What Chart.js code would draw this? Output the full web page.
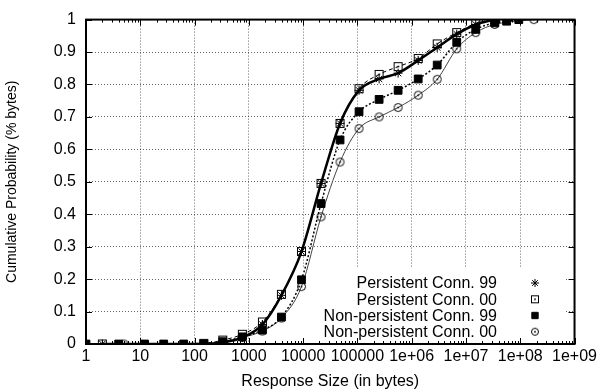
<!DOCTYPE html>
<html>
<head>
<meta charset="utf-8">
<script src="https://cdn.jsdelivr.net/npm/chart.js@4"></script>
<style>
  html, body { margin: 0; padding: 0; background: #fff; }
  canvas { display: block; }
</style>
</head>
<body>
<canvas id="cdfGraph" width="600" height="392"></canvas>
<script>
const seriesNames = ["Persistent Conn. 99", "Persistent Conn. 00",
                     "Non-persistent Conn. 99", "Non-persistent Conn. 00"];

// response size (bytes) / cumulative fraction of bytes
const sizesP99 = [2, 148, 331, 759, 1778, 3981, 9333, 21380, 47860, 107150, 251190,
                  562340, 1318000, 2951000, 6761000, 15140000, 33880000];
const probP99 = [0, 0, 0.005, 0.02, 0.06, 0.15, 0.285, 0.495, 0.68, 0.782, 0.817,
                 0.835, 0.874, 0.914, 0.955, 0.985, 1.0];

const sizesP00 = [2, 148, 331, 759, 1778, 3981, 9333, 21380, 47860, 107150, 251190,
                  562340, 1318000, 2951000, 6761000, 15140000, 33880000];
const probP00 = [0, 0.002, 0.012, 0.03, 0.068, 0.153, 0.285, 0.495, 0.68, 0.787, 0.831,
                 0.855, 0.88, 0.925, 0.96, 0.988, 1.0];

const sizesNP99 = [1, 4, 12, 27, 63, 148, 331, 759, 1778, 3981, 9333, 21380, 47860,
                   107150, 251190, 562340, 1318000, 2951000, 6761000, 15140000,
                   33880000, 56000000, 94000000];
const probNP99 = [0, 0, 0, 0, 0, 0, 0.007, 0.022, 0.043, 0.083, 0.198, 0.433, 0.629,
                  0.716, 0.754, 0.782, 0.817, 0.86, 0.93, 0.97,
                  0.99, 0.995, 1.0];

const sizesNP00 = [5, 331, 759, 1778, 3981, 9333, 21380, 47860, 107150, 251190,
                   562340, 1318000, 2951000, 6761000, 15140000, 33880000, 177800000];
const probNP00 = [0, 0.005, 0.02, 0.04, 0.08, 0.177, 0.392, 0.561, 0.664, 0.70,
                  0.729, 0.767, 0.816, 0.91, 0.96, 0.985, 1.0];

const decades = [1, 10, 100, 1000, 10000, 100000, 1e6, 1e7, 1e8, 1e9];

const FONT = '"Liberation Sans", Arial, Helvetica, sans-serif';
Chart.defaults.font.family = FONT;
Chart.defaults.font.size = 16;
Chart.defaults.color = "#000";

// open marker with a dot in the middle (square or circle)
function dotMarker(kind, size) {
    const c = document.createElement("canvas");
    c.width = c.height = size + 2;
    const g = c.getContext("2d");
    const m = (size + 2) / 2;
    g.strokeStyle = "#000";
    g.lineWidth = 1;
    if (kind === "square") {
        g.strokeRect(1.5, 1.5, size - 1, size - 1);
    } else {
        g.beginPath();
        g.arc(m, m, size / 2 - 0.5, 0, Math.PI * 2);
        g.stroke();
    }
    g.fillStyle = "#000";
    g.fillRect(m - 0.8, m - 0.8, 1.6, 1.6);
    return c;
}

const squareDot = dotMarker("square", 9);
const circleDot = dotMarker("circle", 9);
const squareDotKey = dotMarker("square", 8);
const circleDotKey = dotMarker("circle", 8);

function toPoints(xs, ys) {
    return xs.map((x, i) => ({x: x, y: ys[i]}));
}

function logLabel(v) {
    if (v < 1e6) return String(v);
    const e = Math.round(Math.log10(v));
    return "1e+" + (e < 10 ? "0" + e : e);
}

const keyStyles = [
    {style: "star", radius: 4},
    {style: squareDotKey},
    {style: "rect", radius: 4.5, fill: true},
    {style: circleDotKey}
];

const framePlugin = {
    id: "frame",
    beforeDatasetsDraw(chart) {
        // the key box hides the grid behind it
        const c = chart.ctx;
        c.save();
        c.fillStyle = "#fff";
        c.fillRect(270, 268, 296, 75);
        c.restore();
    },
    afterDatasetsDraw(chart) {
        const c = chart.ctx;
        const a = chart.chartArea;
        const xs = chart.scales.x;
        const ys = chart.scales.y;
        c.save();
        c.strokeStyle = "#000";
        c.lineWidth = 1;
        c.beginPath();
        // x ticks, major and minor, bottom and top
        decades.forEach((d, i) => {
            const px = Math.round(xs.getPixelForValue(d)) + 0.5;
            c.moveTo(px, a.bottom); c.lineTo(px, a.bottom - 6);
            c.moveTo(px, a.top); c.lineTo(px, a.top + 6);
            if (i < decades.length - 1) {
                for (let k = 2; k < 10; k++) {
                    const mx = Math.round(xs.getPixelForValue(d * k)) + 0.5;
                    c.moveTo(mx, a.bottom); c.lineTo(mx, a.bottom - 3);
                    c.moveTo(mx, a.top); c.lineTo(mx, a.top + 3);
                }
            }
        });
        // y ticks, left and right
        for (let k = 0; k <= 10; k++) {
            const py = Math.round(ys.getPixelForValue(k / 10)) + 0.5;
            c.moveTo(a.left, py); c.lineTo(a.left + 6, py);
            c.moveTo(a.right, py); c.lineTo(a.right - 6, py);
        }
        c.stroke();

        c.lineWidth = 2;
        c.strokeRect(a.left, a.top, a.right - a.left, a.bottom - a.top);

        // key
        c.font = "16px " + FONT;
        c.fillStyle = "#000";
        c.textAlign = "right";
        c.textBaseline = "middle";
        const rows = [283, 299.3, 315.5, 331.7];
        seriesNames.forEach((name, i) => {
            c.fillText(name, 497, rows[i] + 1);
            const k = keyStyles[i];
            if (typeof k.style === "string") {
                c.lineWidth = 1;
                c.strokeStyle = "#000";
                c.fillStyle = k.fill ? "#000" : "rgba(0,0,0,0)";
                Chart.helpers.drawPoint(c, {pointStyle: k.style, radius: k.radius, rotation: 0, borderWidth: 1}, 535, rows[i]);
                c.fillStyle = "#000";
            } else {
                c.drawImage(k.style, 535 - k.style.width / 2, rows[i] - k.style.height / 2);
            }
        });
        c.restore();
    }
};

const seriesStyles = [
    {width: 2.5, dash: [], color: "#000", point: "star", radius: 4.5, fill: "rgba(0,0,0,0)"},
    {width: 1, dash: [4, 3], color: "#000", point: squareDot, radius: 4.5, fill: "rgba(0,0,0,0)"},
    {width: 1.5, dash: [2, 2], color: "#000", point: "rect", radius: 5.5, fill: "#000"},
    {width: 1, dash: [], color: "#444", point: circleDot, radius: 4.5, fill: "rgba(0,0,0,0)"}
];

const seriesData = [
    toPoints(sizesP99, probP99),
    toPoints(sizesP00, probP00),
    toPoints(sizesNP99, probNP99),
    toPoints(sizesNP00, probNP00)
];

const ctx = document.getElementById("cdfGraph");

new Chart(ctx, {
    type: "line",
    data: {
        datasets: seriesData.map((pts, i) => ({
            label: seriesNames[i],
            data: pts,
            fill: false,
            cubicInterpolationMode: "monotone",
            borderColor: seriesStyles[i].color,
            borderWidth: seriesStyles[i].width,
            borderDash: seriesStyles[i].dash,
            pointStyle: seriesStyles[i].point,
            pointRadius: seriesStyles[i].radius,
            pointBorderWidth: 1,
            pointBorderColor: "#000",
            pointBackgroundColor: seriesStyles[i].fill
        }))
    },
    options: {
        responsive: false,
        animation: false,
        devicePixelRatio: 1,
        layout: {padding: {top: 17, right: 24, left: 0, bottom: 0}},
        plugins: {
            legend: {display: false},
            tooltip: {enabled: false}
        },
        scales: {
            x: {
                type: "logarithmic",
                min: 1,
                max: 1e9,
                afterBuildTicks(scale) {
                    scale.ticks = decades.map(v => ({value: v}));
                },
                afterFit(scale) { scale.height = 48; },
                ticks: {
                    padding: 3,
                    maxRotation: 0,
                    autoSkip: false,
                    callback: v => logLabel(v)
                },
                grid: {color: "rgba(0,0,0,0.6)", lineWidth: 1, drawTicks: false},
                border: {display: false, dash: [1, 2]},
                title: {display: true, text: "Response Size (in bytes)", padding: {top: 0, bottom: 1}}
            },
            y: {
                min: 0,
                max: 1,
                afterFit(scale) { scale.width = 86; },
                ticks: {
                    stepSize: 0.1,
                    padding: 10,
                    callback: v => String(Math.round(v * 10) / 10)
                },
                grid: {color: "rgba(0,0,0,0.6)", lineWidth: 1, drawTicks: false},
                border: {display: false, dash: [1, 2]},
                title: {display: true, text: "Cumulative Probability (% bytes)", padding: {top: 4, bottom: 0},
                        font: {size: 14}}
            }
        }
    },
    plugins: [framePlugin]
});
</script>
</body>
</html>
